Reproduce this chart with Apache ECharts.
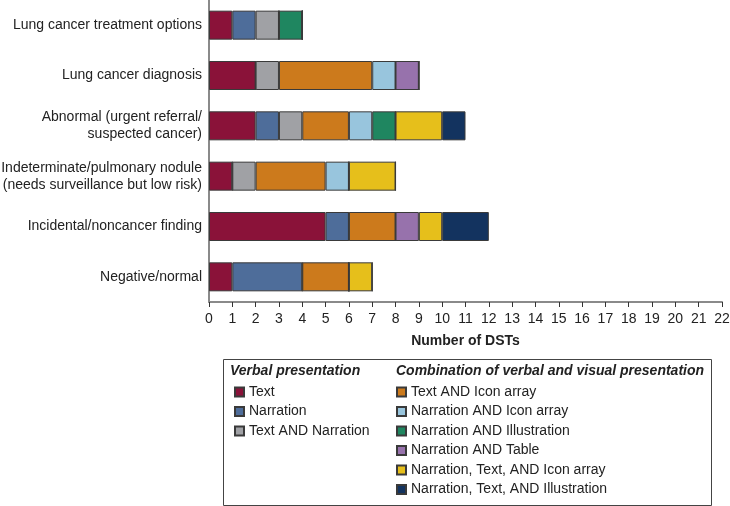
<!DOCTYPE html>
<html><head><meta charset="utf-8">
<script src="https://cdn.jsdelivr.net/npm/echarts@6/dist/echarts.min.js"></script>
<style>html,body{margin:0;padding:0;background:#fff}#c{width:730px;height:506px}</style>
</head><body><div id="c"></div>
<script>
const categories = [
  'Negative/normal',
  'Incidental/noncancer finding',
  'Indeterminate/pulmonary nodule\n(needs surveillance but low risk)',
  'Abnormal (urgent referral/\nsuspected cancer)',
  'Lung cancer diagnosis',
  'Lung cancer treatment options'
];
const xTicks = [0, 22, 1];
// values ordered bottom -> top, same as categories
const textVals           = [1, 5, 1, 2, 2, 1];
const narrationVals      = [3, 1, 0, 1, 0, 1];
const textNarrVals       = [0, 0, 1, 1, 1, 1];
const textIconVals       = [2, 2, 3, 2, 4, 0];
const narrIconVals       = [0, 0, 1, 1, 1, 0];
const narrIllusVals      = [0, 0, 0, 1, 0, 1];
const narrTableVals      = [0, 1, 0, 0, 1, 0];
const narrTextIconVals   = [1, 1, 2, 2, 0, 0];
const narrTextIllusVals  = [0, 2, 0, 1, 0, 0];

const seriesNames = ['Text','Narration','Text AND Narration','Text AND Icon array','Narration AND Icon array','Narration AND Illustration','Narration AND Table','Narration, Text, AND Icon array','Narration, Text, AND Illustration'];
const seriesData = [textVals, narrationVals, textNarrVals, textIconVals, narrIconVals, narrIllusVals, narrTableVals, narrTextIconVals, narrTextIllusVals];
const colors = ['#8a1239','#4e6d9a','#a0a1a5','#cc7a1c','#98c5dd','#1f8660','#9772ac','#e6bf1b','#13335f'];

const FONT = 'Liberation Sans';
const legendText = {fontSize: 14, lineHeight: 14, color: '#222', fontFamily: FONT};
const chart = echarts.init(document.getElementById('c'), null, {renderer:'canvas'});
chart.setOption({
  animation: false,
  textStyle: {fontFamily: FONT},
  grid: {left: 209, right: 8, top: 0, height: 302, containLabel: false, outerBoundsMode: 'none'},
  xAxis: {
    type: 'value', min: xTicks[0], max: xTicks[1], interval: xTicks[2],
    axisLine: {show: true, lineStyle: {color: '#8a8a8a', width: 2}},
    axisTick: {show: true, length: 5, lineStyle: {color: '#333'}},
    axisLabel: {color: '#222', fontSize: 14, margin: 10, fontFamily: FONT},
    splitLine: {show: false},
    name: 'Number of DSTs', nameLocation: 'middle', nameGap: 32,
    nameTextStyle: {fontWeight: 'bold', fontSize: 14, color: '#222', fontFamily: FONT}
  },
  yAxis: {
    type: 'category', data: categories,
    axisLine: {show: true, lineStyle: {color: '#8a8a8a', width: 2}},
    axisTick: {show: false},
    axisLabel: {color: '#222', fontSize: 14, margin: 7, lineHeight: 17, align: 'right', fontFamily: FONT}
  },
  legend: [
    {
      data: seriesNames.slice(0,3), orient: 'vertical', left: 229, top: 380,
      icon: 'rect', itemWidth: 9, itemHeight: 9, itemGap: 5.5,
      textStyle: legendText, selectedMode: false
    },
    {
      data: seriesNames.slice(3), orient: 'vertical', left: 391, top: 380,
      icon: 'rect', itemWidth: 9, itemHeight: 9, itemGap: 5.5,
      textStyle: legendText, selectedMode: false
    }
  ],
  graphic: [
    {type: 'rect', left: 221, top: 357, shape: {width: 488, height: 146},
     style: {fill: 'none', stroke: '#444', lineWidth: 1}},
    {type: 'text', left: 230, top: 364, style: {text: 'Verbal presentation', font: 'italic bold 14px "Liberation Sans"', fill: '#222'}},
    {type: 'text', left: 396, top: 364, style: {text: 'Combination of verbal and visual presentation', font: 'italic bold 14px "Liberation Sans"', fill: '#222'}}
  ],
  series: seriesNames.map((n, i) => ({
    name: n, type: 'bar', stack: 'total', data: seriesData[i], barWidth: 29,
    itemStyle: {color: colors[i], borderColor: '#3a3a3a', borderWidth: 1}
  }))
});
</script></body></html>
